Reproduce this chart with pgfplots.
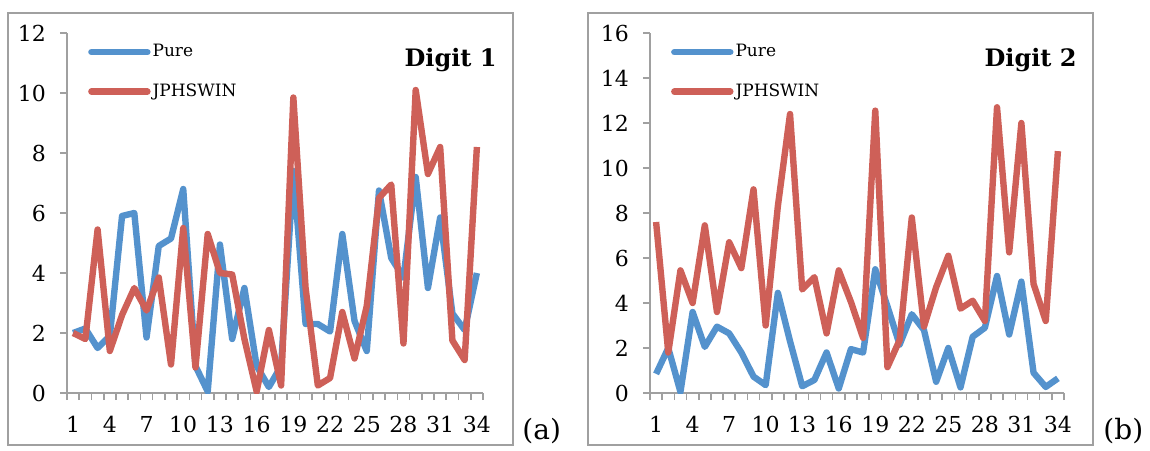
\documentclass[border=0pt]{standalone}
\usepackage{fontspec}
\setmainfont{DejaVu Serif}
\usepackage{pgfplots}
\pgfplotsset{compat=1.18}
\definecolor{pureblue}{RGB}{84,146,205}
\definecolor{jred}{RGB}{206,96,88}
\definecolor{axgray}{RGB}{160,160,160}
\pgfplotsset{
  panel/.style={
    scale only axis, width=208pt, height=180pt,
    xmin=0.5, xmax=34.5, ymin=0,
    axis x line=bottom, axis y line=left,
    axis line style={-, axgray, line width=1pt},
    tick align=outside,
    every tick/.style={axgray, line width=0.8pt},
    major tick length=3.5pt,
    xtick={0.5,1.5,...,34.5},
    xticklabels={},
    extra x ticks={1,4,...,34},
    extra x tick labels={1,4,7,10,13,16,19,22,25,28,31,34},
    extra x tick style={major tick length=0pt, xticklabel style={yshift=-8pt}},
    ticklabel style={font=\fontsize{11}{13}\selectfont, black},
    yticklabel style={xshift=-3.5pt},
    /pgf/number format/assume math mode=true,
    legend cell align=left,
    legend style={draw=none, fill=none, inner sep=0pt, row sep=10pt,
      at={(axis description cs:0.05,0.975)}, anchor=north west,
      font=\fontsize{8.5}{9}\selectfont, nodes={inner sep=1pt}},
    legend image code/.code={\draw[#1, line width=3.2pt, line cap=round] (0pt,0pt) -- (28pt,0pt);},
  },
  pure/.style={pureblue, line width=3.2pt, line join=round, mark=none},
  jph/.style={jred, line width=3.2pt, line join=round, mark=none},
}
\begin{document}
\begin{tikzpicture}[x=1pt,y=1pt]
\useasboundingbox (0,0) rectangle (575,225);
\draw[axgray, line width=0.9pt] (4,2.5) rectangle (256.5,218.5);
\draw[axgray, line width=0.9pt] (294,2.5) rectangle (546.5,218.5);
\begin{axis}[panel, at={(33.5pt,28.5pt)}, anchor=south west, ymax=12, ytick={0,2,...,12}]
\addplot[pure] coordinates {(1,2.0)(2,2.15)(3,1.5)(4,1.9)(5,5.9)(6,6.0)(7,1.85)(8,4.9)(9,5.15)(10,6.8)(11,0.9)(12,0.05)(13,4.95)(14,1.8)(15,3.5)(16,0.9)(17,0.2)(18,0.9)(19,7.4)(20,2.3)(21,2.3)(22,2.05)(23,5.3)(24,2.4)(25,1.4)(26,6.75)(27,4.5)(28,3.85)(29,7.2)(30,3.5)(31,5.85)(32,2.65)(33,2.1)(34,4.0)};
\addlegendentry{Pure}
\addplot[jph] coordinates {(1,2.0)(2,1.8)(3,5.45)(4,1.4)(5,2.6)(6,3.5)(7,2.75)(8,3.85)(9,0.95)(10,5.5)(11,0.85)(12,5.3)(13,4.0)(14,3.95)(15,1.8)(16,0.05)(17,2.1)(18,0.25)(19,9.85)(20,3.5)(21,0.25)(22,0.5)(23,2.7)(24,1.15)(25,2.9)(26,6.5)(27,6.95)(28,1.65)(29,10.1)(30,7.3)(31,8.2)(32,1.75)(33,1.1)(34,8.2)};
\addlegendentry{JPHSWIN}
\end{axis}
\begin{axis}[panel, at={(325pt,28.5pt)}, anchor=south west, width=207pt, ymax=16, ytick={0,2,...,16}]
\addplot[pure] coordinates {(1,0.85)(2,2.0)(3,0.05)(4,3.6)(5,2.05)(6,2.95)(7,2.65)(8,1.8)(9,0.73)(10,0.35)(11,4.45)(12,2.3)(13,0.3)(14,0.58)(15,1.8)(16,0.2)(17,1.95)(18,1.8)(19,5.5)(20,3.85)(21,2.15)(22,3.5)(23,2.8)(24,0.5)(25,2.0)(26,0.25)(27,2.5)(28,2.9)(29,5.2)(30,2.6)(31,4.95)(32,0.9)(33,0.27)(34,0.65)};
\addlegendentry{Pure}
\addplot[jph] coordinates {(1,7.6)(2,1.8)(3,5.45)(4,4.0)(5,7.45)(6,3.6)(7,6.7)(8,5.55)(9,9.05)(10,3.0)(11,8.3)(12,12.4)(13,4.6)(14,5.15)(15,2.65)(16,5.45)(17,4.05)(18,2.45)(19,12.55)(20,1.15)(21,2.35)(22,7.8)(23,2.95)(24,4.7)(25,6.1)(26,3.75)(27,4.1)(28,3.2)(29,12.7)(30,6.25)(31,12.0)(32,4.85)(33,3.2)(34,10.75)};
\addlegendentry{JPHSWIN}
\end{axis}
\node[anchor=base east, inner sep=0pt, font=\fontsize{12}{14}\selectfont\bfseries] at (248.5,191.5) {Digit 1};
\node[anchor=base east, inner sep=0pt, font=\fontsize{12}{14}\selectfont\bfseries] at (538.5,191.5) {Digit 2};
\node[anchor=base west, inner sep=0pt, font=\fontsize{14}{16}\selectfont] at (261,5.5) {(a)};
\node[anchor=base west, inner sep=0pt, font=\fontsize{14}{16}\selectfont] at (551.5,5.5) {(b)};
\end{tikzpicture}
\end{document}
